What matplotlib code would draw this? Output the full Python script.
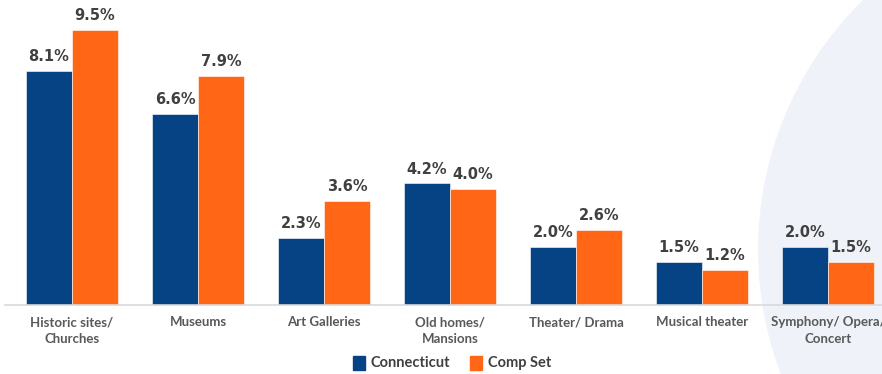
import matplotlib
matplotlib.use("Agg")
import matplotlib.pyplot as plt
from matplotlib.patches import Circle, Patch
import numpy as np

categories = ["Historic sites/\nChurches", "Museums", "Art Galleries", "Old homes/\nMansions",
              "Theater/ Drama", "Musical theater", "Symphony/ Opera/\nConcert"]
connecticut = [8.1, 6.6, 2.3, 4.2, 2.0, 1.5, 2.0]
comp_set = [9.5, 7.9, 3.6, 4.0, 2.6, 1.2, 1.5]
series_names = ["Connecticut", "Comp Set"]

BLUE = "#054385"
ORANGE = "#ff6616"
TXT = "#404040"

fig = plt.figure(figsize=(8.82, 3.74), dpi=100)
fig.patch.set_facecolor("white")

# background decorative circle
circ = Circle((11.08, 1.24), 3.5, transform=fig.dpi_scale_trans,
              facecolor="#eff2f8", edgecolor="none", zorder=0)
fig.add_artist(circ)

ax = fig.add_axes([5/882, 69/374, 877/882, 305/374])
ax.set_facecolor("none")
ax.set_zorder(1)

x = np.arange(len(categories))
w = 0.365
b1 = ax.bar(x - w/2, connecticut, w, color=BLUE, label=series_names[0],
            edgecolor="white", linewidth=0.4)
b2 = ax.bar(x + w/2, comp_set, w, color=ORANGE, label=series_names[1],
            edgecolor="white", linewidth=0.4)

for bars, vals in ((b1, connecticut), (b2, comp_set)):
    for r, v in zip(bars, vals):
        ax.annotate(f"{v:.1f}%", (r.get_x() + r.get_width()/2, v),
                    xytext=(0, 5), textcoords="offset points",
                    ha="center", va="bottom", fontsize=10.5, fontweight="bold",
                    color=TXT, family="DejaVu Sans")

ax.set_xlim(-0.532, 6.429)
ax.set_ylim(0, 10.54)
ax.set_xticks(x)
ax.set_xticklabels(categories, fontsize=9.5, fontweight="bold", color="#595959",
                   family="Lato", linespacing=1.45)
ax.tick_params(axis="x", length=0, pad=8)
ax.set_yticks([])
for s in ("top", "right", "left"):
    ax.spines[s].set_visible(False)
ax.spines["bottom"].set_color("#d9d9d9")
ax.spines["bottom"].set_linewidth(1.2)

handles = [Patch(color=BLUE), Patch(color=ORANGE)]
fig.legend(handles, series_names, loc="center", bbox_to_anchor=(452/882, 1 - 363/374),
           ncol=2, frameon=False, handlelength=0.8, handleheight=1.1,
           handletextpad=0.4, columnspacing=1.4,
           prop={"family": "Lato", "weight": "bold", "size": 10.5}, labelcolor=TXT)

fig.savefig("out.png", dpi=100, facecolor="white")
